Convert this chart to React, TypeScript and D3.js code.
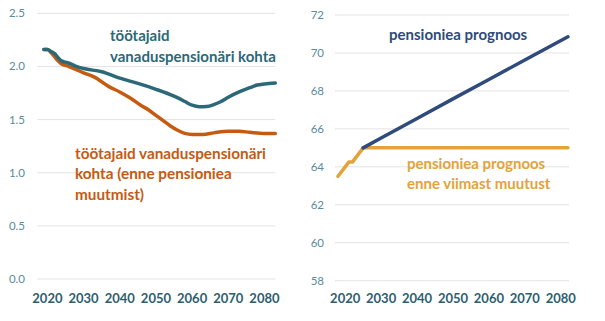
import React from "react";
import * as d3 from "d3";

// Left chart: workers per old-age pensioner
const ratioYears = [2019, 2020, 2021, 2022, 2023, 2024, 2025, 2026, 2028, 2030, 2035, 2040, 2045, 2050, 2055, 2058, 2060, 2062, 2064, 2066, 2068, 2070, 2073, 2076, 2078, 2080, 2083];
const ratioNew = [2.16, 2.16, 2.14, 2.12, 2.08, 2.05, 2.04, 2.03, 2.0, 1.98, 1.95, 1.89, 1.84, 1.785, 1.72, 1.67, 1.635, 1.62, 1.622, 1.64, 1.67, 1.71, 1.76, 1.80, 1.825, 1.835, 1.845];
const ratioOldYears = [2019, 2020, 2021, 2022, 2023, 2024, 2025, 2028, 2030, 2033, 2037, 2040, 2043, 2046, 2048, 2050, 2052, 2054, 2056, 2058, 2060, 2063, 2066, 2070, 2073, 2076, 2080, 2083];
const ratioOld = [2.16, 2.16, 2.13, 2.09, 2.05, 2.02, 2.01, 1.97, 1.94, 1.90, 1.81, 1.76, 1.70, 1.63, 1.59, 1.54, 1.49, 1.44, 1.40, 1.37, 1.36, 1.36, 1.375, 1.39, 1.39, 1.38, 1.37, 1.37];
const leftTicks = [0, 0.5, 1.0, 1.5, 2.0, 2.5];

// Right chart: pension age forecast
const ageYears = [2025, 2030, 2040, 2050, 2060, 2070, 2082];
const ageNew = [65.0, 65.52, 66.55, 67.58, 68.6, 69.63, 70.85];
const ageOldYears = [2018, 2021, 2022, 2025, 2082];
const ageOld = [63.5, 64.25, 64.25, 65.0, 65.0];
const rightTicks = [58, 60, 62, 64, 66, 68, 70, 72];

const xTicks = [2020, 2030, 2040, 2050, 2060, 2070, 2080];

const labelNew = ["töötajaid", "vanaduspensionäri kohta"];
const labelOld = ["töötajaid vanaduspensionäri", "kohta (enne pensioniea", "muutmist)"];
const labelAgeNew = ["pensioniea prognoos"];
const labelAgeOld = ["pensioniea prognoos", "enne viimast muutust"];

const FONT = "Lato, 'Open Sans', sans-serif";
const TEAL = "#2b6878";
const ORANGE = "#c55a11";
const NAVY = "#2e4b7b";
const GOLD = "#e4a23a";
const GRID = "#e3e3e3";
const YTICK = "#5a8b9b";
const XTICK = "#2d5e6f";

export default function App() {
  // Left scales
  const xL = d3.scaleLinear().domain([2017.2, 2083]).range([37.3, 275.3]);
  const yL = d3.scaleLinear().domain([0, 2.5]).range([279, 13.3]);
  // Right scales
  const xR = d3.scaleLinear().domain([2017.16, 2082.3]).range([335, 569]);
  const yR = d3.scaleLinear().domain([58, 72]).range([280.7, 15]);

  const lineL = (ys: number[], vs: number[]) =>
    d3.line<number>().x((_, i) => xL(ys[i])).y((v) => yL(v)).curve(d3.curveMonotoneX)(vs) || "";
  const lineR = (ys: number[], vs: number[]) =>
    d3.line<number>().x((_, i) => xR(ys[i])).y((v) => yR(v))(vs) || "";

  return (
    <div style={{ position: "absolute", left: 0, top: 0 }}>
      <svg width={605} height={321} style={{ display: "block", background: "#fff" }} fontFamily={FONT}>
        {/* Left grid */}
        {leftTicks.map((t) => (
          <g key={"lg" + t}>
            <line x1={37.3} x2={275.3} y1={yL(t)} y2={yL(t)} stroke={GRID} strokeWidth={1} />
            <text x={25} y={yL(t)} dy="0.35em" textAnchor="end" fontSize={11.5} fill={YTICK}>
              {t.toFixed(1)}
            </text>
          </g>
        ))}
        {xTicks.map((t) => (
          <text key={"lx" + t} x={xL(t)} y={302.5} textAnchor="middle" fontSize={13} fontWeight="bold" fill={XTICK}>
            {t}
          </text>
        ))}
        <path d={lineL(ratioOldYears, ratioOld)} fill="none" stroke={ORANGE} strokeWidth={3.5} strokeLinejoin="round" strokeLinecap="round" />
        <path d={lineL(ratioYears, ratioNew)} fill="none" stroke={TEAL} strokeWidth={3.5} strokeLinejoin="round" strokeLinecap="round" />
        <text fontSize={15} fontWeight="bold" fill={TEAL}>
          {labelNew.map((s, i) => (
            <tspan key={i} x={110} y={41 + i * 21}>
              {s}
            </tspan>
          ))}
        </text>
        <text fontSize={15.3} fontWeight="bold" fill={ORANGE}>
          {labelOld.map((s, i) => (
            <tspan key={i} x={75} y={158.5 + i * 20.5}>
              {s}
            </tspan>
          ))}
        </text>

        {/* Right grid */}
        {rightTicks.map((t) => (
          <g key={"rg" + t}>
            <line x1={335} x2={569} y1={yR(t)} y2={yR(t)} stroke={GRID} strokeWidth={1} />
            <text x={324} y={yR(t)} dy="0.35em" textAnchor="end" fontSize={11.5} fill={YTICK}>
              {t}
            </text>
          </g>
        ))}
        {xTicks.map((t) => (
          <text key={"rx" + t} x={xR(t)} y={302.5} textAnchor="middle" fontSize={13} fontWeight="bold" fill={XTICK}>
            {t}
          </text>
        ))}
        <path d={lineR(ageOldYears, ageOld)} fill="none" stroke={GOLD} strokeWidth={3.5} strokeLinejoin="round" strokeLinecap="round" />
        <path d={lineR(ageYears, ageNew)} fill="none" stroke={NAVY} strokeWidth={3.5} strokeLinejoin="round" strokeLinecap="round" />
        <text fontSize={15} fontWeight="bold" fill={NAVY}>
          {labelAgeNew.map((s, i) => (
            <tspan key={i} x={389} y={39.5 + i * 20}>
              {s}
            </tspan>
          ))}
        </text>
        <text fontSize={15} fontWeight="bold" fill={GOLD}>
          {labelAgeOld.map((s, i) => (
            <tspan key={i} x={407} y={168.5 + i * 20}>
              {s}
            </tspan>
          ))}
        </text>
      </svg>
    </div>
  );
}
